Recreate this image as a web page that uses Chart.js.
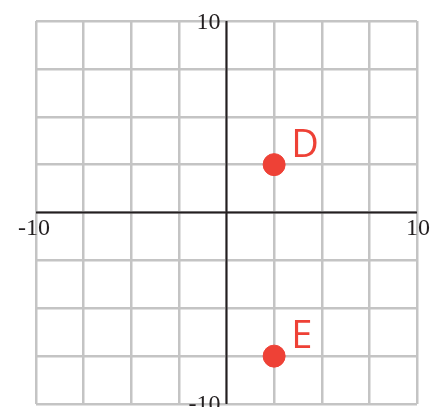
<!DOCTYPE html>
<html>
<head>
<meta charset="utf-8">
<script src="https://cdn.jsdelivr.net/npm/chart.js@4"></script>
<style>
	body { margin: 0; background: #fff; }
	#plane { display: block; }
</style>
</head>
<body>
<canvas id="plane" width="448" height="407"></canvas>
<script>
const pointNames = ['D', 'E'];
const xValues = [2.5, 2.5];
const yValues = [2.5, -7.5];
const axisMin = -10;
const axisMax = 10;
const gridStep = 2.5;
const tickLabels = ['-10', '10'];

const red = '#ee4136';

// 坐标轴 + 刻度文字 + 点名
const planePlugin = {
	id: 'plane',
	beforeDatasetsDraw(chart) {
		const { ctx, chartArea, scales } = chart;
		const x0 = scales.x.getPixelForValue(0);
		const y0 = scales.y.getPixelForValue(0);
		ctx.save();
		ctx.strokeStyle = '#231f20';
		ctx.lineWidth = 2;
		ctx.beginPath();
		ctx.moveTo(chartArea.left, y0);
		ctx.lineTo(chartArea.right, y0);
		ctx.moveTo(x0, chartArea.top);
		ctx.lineTo(x0, chartArea.bottom);
		ctx.stroke();

		ctx.fillStyle = '#231f20';
		ctx.font = '24px "Liberation Serif", "DejaVu Serif", serif';
		ctx.textBaseline = 'alphabetic';
		// y 轴
		ctx.textAlign = 'right';
		ctx.fillText(tickLabels[1], x0 - 6, scales.y.getPixelForValue(axisMax) + 8);
		ctx.fillText(tickLabels[0], x0 - 6, scales.y.getPixelForValue(axisMin) + 7);
		// x 轴
		ctx.fillText(tickLabels[0], scales.x.getPixelForValue(axisMin) + 14, y0 + 22);
		ctx.textAlign = 'center';
		ctx.fillText(tickLabels[1], scales.x.getPixelForValue(axisMax) + 1, y0 + 22);
		ctx.restore();
	},
	afterDatasetsDraw(chart) {
		const { ctx, scales } = chart;
		ctx.save();
		ctx.fillStyle = red;
		ctx.font = '38px "Open Sans", "Noto Sans", sans-serif';
		ctx.textAlign = 'left';
		ctx.textBaseline = 'alphabetic';
		pointNames.forEach((name, i) => {
			const px = scales.x.getPixelForValue(xValues[i]);
			const py = scales.y.getPixelForValue(yValues[i]);
			ctx.fillText(name, px + 17, py - 8);
		});
		ctx.restore();
	},
};

const gridOpts = {
	color: '#c4c4c4',
	lineWidth: 2.5,
	drawTicks: false,
};

new Chart(document.getElementById('plane'), {
	type: 'scatter',
	data: {
		datasets: [
			{
				data: xValues.map((x, i) => ({ x, y: yValues[i] })),
				backgroundColor: red,
				borderColor: red,
				pointRadius: 11,
				pointHoverRadius: 11,
			},
		],
	},
	plugins: [planePlugin],
	options: {
		responsive: false,
		animation: false,
		layout: { autoPadding: false, padding: { left: 36, right: 31, top: 21, bottom: 3 } },
		plugins: {
			legend: { display: false },
			tooltip: { enabled: false },
		},
		scales: {
			x: {
				type: 'linear',
				min: axisMin,
				max: axisMax,
				ticks: { display: false, stepSize: gridStep },
				grid: gridOpts,
				border: { display: false },
				afterFit: (scale) => { scale.height = 0; },
			},
			y: {
				type: 'linear',
				min: axisMin,
				max: axisMax,
				ticks: { display: false, stepSize: gridStep },
				grid: gridOpts,
				border: { display: false },
				afterFit: (scale) => { scale.width = 0; },
			},
		},
	},
});
</script>
</body>
</html>
